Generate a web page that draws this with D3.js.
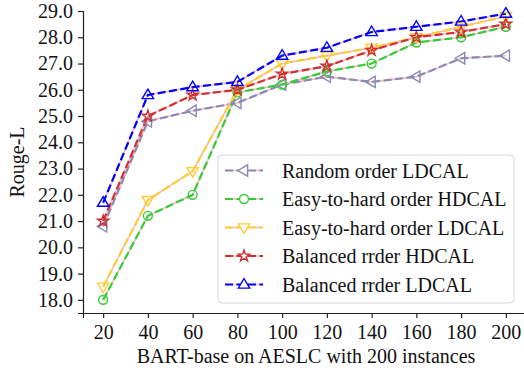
<!DOCTYPE html>
<html><head><meta charset="utf-8">
<script src="https://cdn.jsdelivr.net/npm/d3@7"></script>
<style>body{margin:0;background:#fff;} svg{display:block;}</style>
</head><body>
<svg id="c" width="524" height="372"></svg>
<script>
const xValues = [20,40,60,80,100,120,140,160,180,200];
const yTicks = [18,19,20,21,22,23,24,25,26,27,28,29];
const seriesNames = ["Random order LDCAL","Easy-to-hard order HDCAL","Easy-to-hard order LDCAL","Balanced rrder HDCAL","Balanced rrder LDCAL"];
const randomLD = [20.8,24.8,25.2,25.5,26.2,26.5,26.3,26.5,27.2,27.3];
const easyHD = [18.0,21.2,22.0,25.9,26.2,26.7,27.0,27.8,28.0,28.4];
const easyLD = [18.5,21.8,22.9,26.0,27.0,27.3,27.6,28.0,28.4,28.8];
const balHD = [21.0,25.0,25.8,26.0,26.6,26.9,27.5,28.0,28.2,28.5];
const balLD = [21.7,25.8,26.1,26.3,27.3,27.6,28.2,28.4,28.6,28.9];
const colors = ["#8a8ab2","#33cc33","#ffcc33","#d03030","#0000ff"];
const symbols = ["triLeft","circle","triDown","star","triUp"];

const FONT = "'Liberation Serif'";
const FS = "20px";
const series = [randomLD,easyHD,easyLD,balHD,balLD];
const svg = d3.select("#c");
const L=83, R=526, T=11, B=313;
const x = d3.scaleLinear().domain([11,209]).range([L,R]);
const y = d3.scaleLinear().domain([17.5,29.0]).range([B,T]);

// axes
const xa = svg.append("g").attr("transform",`translate(0,${B})`)
  .call(d3.axisBottom(x).tickValues(xValues).tickSize(5).tickPadding(7).tickFormat(d3.format("d")));
const ya = svg.append("g").attr("transform",`translate(${L},0)`)
  .call(d3.axisLeft(y).tickValues(yTicks).tickSize(5).tickPadding(5).tickFormat(d3.format(".1f")));
[xa,ya].forEach(a=>{
  a.attr("font-family",null);
  a.selectAll("path").attr("stroke","#222").attr("stroke-width",1.2);
  a.selectAll("line").attr("stroke","#222").attr("stroke-width",1.2);
  a.selectAll("text").attr("fill","#111").style("font-size",FS).style("font-family",FONT);
});

svg.append("text").attr("x",306).attr("y",363).attr("text-anchor","middle")
  .style("font-size",FS).style("font-family",FONT).attr("fill","#111").text("BART-base on AESLC with 200 instances");
svg.append("text").attr("transform",`translate(24,${(T+B)/2}) rotate(-90)`).attr("text-anchor","middle")
  .style("font-size",FS).style("font-family",FONT).attr("fill","#111").text("Rouge-L");

function markerPath(kind, s){
  if(kind==="circle") return d3.symbol(d3.symbolCircle, s*s*0.62)();
  if(kind==="star") return d3.symbol(d3.symbolStar, s*s*0.4)();
  const r=s*0.6;
  let pts;
  if(kind==="triUp") pts=[[0,-r],[r*0.95,r*0.6],[-r*0.95,r*0.6]];
  if(kind==="triDown") pts=[[0,r],[r*0.95,-r*0.6],[-r*0.95,-r*0.6]];
  if(kind==="triLeft") pts=[[-r,0],[r*0.6,-r*0.95],[r*0.6,r*0.95]];
  return "M"+pts.map(p=>p.join(",")).join("L")+"Z";
}
const MS = 10;

const line = d3.line().x((d,i)=>x(xValues[i])).y(d=>y(d));
const plot = svg.append("g");
series.forEach((s,k)=>{
  plot.append("path").attr("d",line(s)).attr("fill","none").attr("stroke","#f2b8c6").attr("stroke-width",1.6);
  plot.append("path").attr("d",line(s)).attr("fill","none").attr("stroke",colors[k]).attr("stroke-width",2.2)
    .attr("stroke-dasharray","8,3.5");
});
series.forEach((s,k)=>{
  plot.selectAll(null).data(s).enter().append("path")
    .attr("transform",(d,i)=>`translate(${x(xValues[i])},${y(d)})`)
    .attr("d",markerPath(symbols[k],MS)).attr("fill","none").attr("stroke",colors[k]).attr("stroke-width",1.4);
});

// legend
const lg = svg.append("g");
lg.append("rect").attr("x",218).attr("y",155).attr("width",296).attr("height",148).attr("rx",4)
  .attr("fill","#fff").attr("fill-opacity",0.85).attr("stroke","#d8d8d8").attr("stroke-width",1);
seriesNames.forEach((n,k)=>{
  const cy = 170.5 + k*28.5;
  lg.append("line").attr("x1",225).attr("x2",263).attr("y1",cy).attr("y2",cy)
    .attr("stroke","#f2b8c6").attr("stroke-width",1.6);
  lg.append("line").attr("x1",225).attr("x2",263).attr("y1",cy).attr("y2",cy)
    .attr("stroke",colors[k]).attr("stroke-width",2.2).attr("stroke-dasharray","8,3.5");
  lg.append("path").attr("transform",`translate(244,${cy})`).attr("d",markerPath(symbols[k],MS))
    .attr("fill","#fff").attr("stroke",colors[k]).attr("stroke-width",1.4);
  lg.append("text").attr("x",282).attr("y",cy).attr("dy","0.35em").style("font-size",FS).style("font-family",FONT)
    .attr("fill","#111").text(n);
});
</script>
</body></html>
